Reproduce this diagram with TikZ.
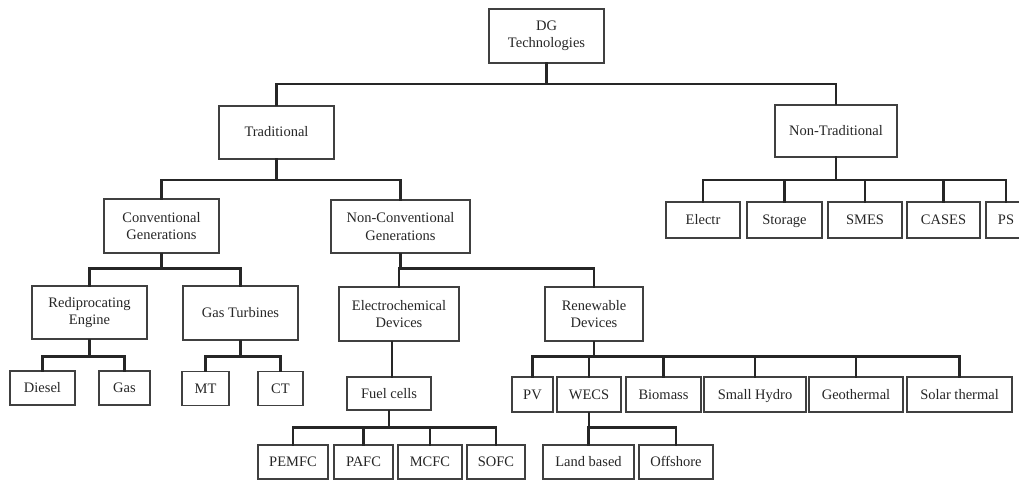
\documentclass[tikz,border=0pt]{standalone}
\usepackage{fontspec}
\setmainfont{Liberation Serif}
\begin{document}
\begin{tikzpicture}[x=1pt,y=-1pt,
  box/.style={draw=black!75,line width=1.2pt,rectangle,inner sep=0pt,align=center,
    text=black!85,font=\fontsize{14.5}{17.5}\selectfont},
  one/.style={box,text height=11pt,text depth=2pt},
  conn/.style={draw=black!85,line width=2.2pt,line cap=rect}]
\useasboundingbox (0,0) rectangle (1019,481);
\fill[white] (0,0) rectangle (1019,481);
% level 0
\node[box,minimum width=115pt,minimum height=54pt] (dg) at (546.5,36) {DG\\Technologies};
% level 1
\node[one,minimum width=115pt,minimum height=53pt] (trad) at (276.5,132.5) {Traditional};
\node[one,minimum width=122pt,minimum height=52pt] (ntrad) at (836,131) {Non-Traditional};
% level 2
\node[box,minimum width=115pt,minimum height=54pt] (conv) at (161.5,226) {Conventional\\Generations};
\node[box,minimum width=139pt,minimum height=53pt] (nconv) at (400.5,226.5) {Non-Conventional\\Generations};
\node[one,minimum width=74pt,minimum height=36pt] (electr) at (703,220) {Electr};
\node[one,minimum width=75pt,minimum height=36pt] (storage) at (784.5,220) {Storage};
\node[one,minimum width=74pt,minimum height=36pt] (smes) at (865,220) {SMES};
\node[one,minimum width=73pt,minimum height=36pt] (cases) at (943.5,220) {CASES};
\node[one,minimum width=40pt,minimum height=36pt] (ps) at (1006,220) {PS};
% level 3
\node[box,minimum width=115pt,minimum height=53pt] (recip) at (89.5,312.5) {Rediprocating\\Engine};
\node[one,minimum width=115pt,minimum height=54pt] (gturb) at (240.5,313) {Gas Turbines};
\node[box,minimum width=120pt,minimum height=54pt] (echem) at (399,314) {Electrochemical\\Devices};
\node[box,minimum width=98pt,minimum height=54pt] (renew) at (594,314) {Renewable\\Devices};
% level 4
\node[one,minimum width=65pt,minimum height=34pt] (diesel) at (42.5,388) {Diesel};
\node[one,minimum width=51pt,minimum height=34pt] (gas) at (124.5,388) {Gas};
\node[one,minimum width=47pt,minimum height=34pt] (mt) at (205.5,388.5) {MT};
\node[one,minimum width=45pt,minimum height=34pt] (ct) at (280.5,388.5) {CT};
\node[one,minimum width=84pt,minimum height=33pt] (fuel) at (389,393.5) {Fuel cells};
\node[one,minimum width=41pt,minimum height=35pt] (pv) at (532.5,394.5) {PV};
\node[one,minimum width=64pt,minimum height=35pt] (wecs) at (589,394.5) {WECS};
\node[one,minimum width=75pt,minimum height=35pt] (biomass) at (663.5,394.5) {Biomass};
\node[one,minimum width=102pt,minimum height=35pt] (hydro) at (755,394.5) {Small Hydro};
\node[one,minimum width=94pt,minimum height=35pt] (geo) at (856,394.5) {Geothermal};
\node[one,minimum width=105pt,minimum height=35pt] (solar) at (959.5,394.5) {Solar thermal};
% level 5
\node[one,minimum width=70pt,minimum height=34pt] (pemfc) at (293,462) {PEMFC};
\node[one,minimum width=59pt,minimum height=34pt] (pafc) at (363.5,462) {PAFC};
\node[one,minimum width=64pt,minimum height=34pt] (mcfc) at (430,462) {MCFC};
\node[one,minimum width=58pt,minimum height=34pt] (sofc) at (496,462) {SOFC};
\node[one,minimum width=91pt,minimum height=34pt] (land) at (588.5,462) {Land based};
\node[one,minimum width=74pt,minimum height=34pt] (off) at (676,462) {Offshore};
% bus levels
\coordinate (b0) at (0,84);
\coordinate (b1) at (0,180);
\coordinate (b2) at (0,268.5);
\coordinate (b3) at (0,356.5);
\coordinate (b4) at (0,427.5);
% connectors
\foreach \c in {trad,ntrad} \draw[conn] (dg.south) -- (dg.south |- b0) -| (\c.north);
\foreach \c in {conv,nconv} \draw[conn] (trad.south) -- (trad.south |- b1) -| (\c.north);
\foreach \c in {electr,storage,smes,cases,ps} \draw[conn] (ntrad.south) -- (ntrad.south |- b1) -| (\c.north);
\foreach \c in {recip,gturb} \draw[conn] (conv.south) -- (conv.south |- b2) -| (\c.north);
\foreach \c in {echem,renew} \draw[conn] (nconv.south) -- (nconv.south |- b2) -| (\c.north);
\foreach \c in {diesel,gas} \draw[conn] (recip.south) -- (recip.south |- b3) -| (\c.north);
\foreach \c in {mt,ct} \draw[conn] (gturb.south) -- (gturb.south |- b3) -| (\c.north);
\draw[conn] ([xshift=-7pt]echem.south) -- ([xshift=3pt]fuel.north);
\foreach \c in {pv,wecs,biomass,hydro,geo,solar} \draw[conn] (renew.south) -- (renew.south |- b3) -| (\c.north);
\foreach \c in {pemfc,pafc,mcfc,sofc} \draw[conn] (fuel.south) -- (fuel.south |- b4) -| (\c.north);
\foreach \c in {land,off} \draw[conn] (wecs.south) -- (wecs.south |- b4) -| (\c.north);
\end{tikzpicture}
\end{document}
